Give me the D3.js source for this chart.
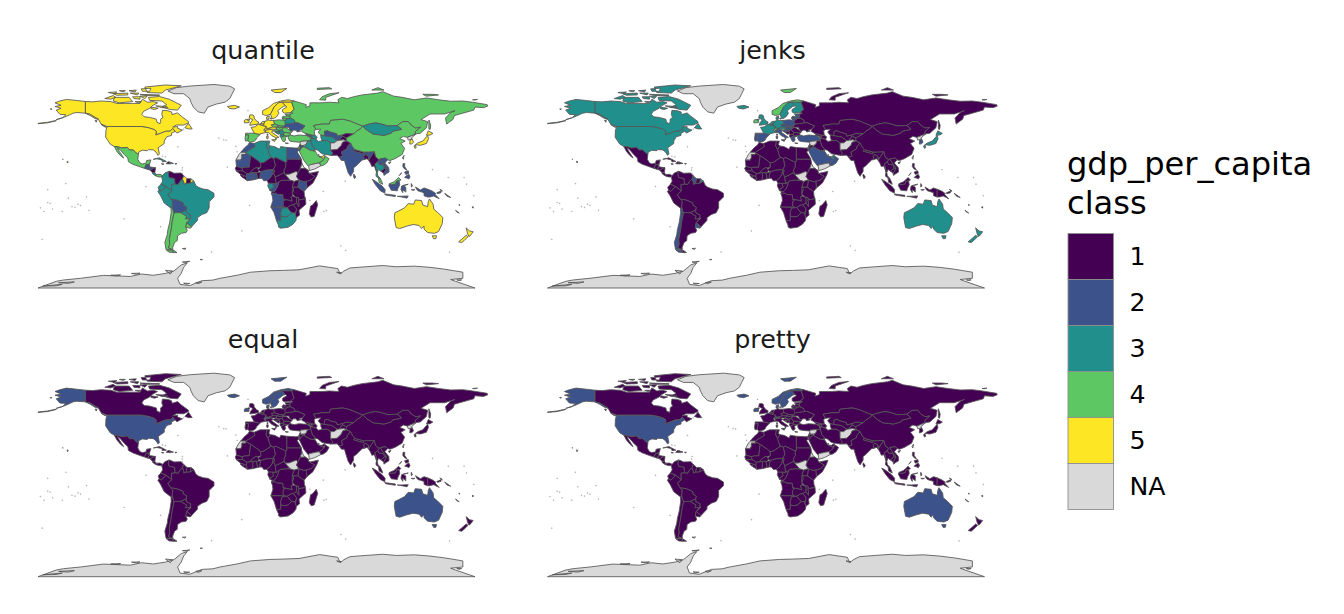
<!DOCTYPE html>
<html><head><meta charset="utf-8">
<script src="https://cdn.jsdelivr.net/npm/d3@7"></script>
<style>html,body{margin:0;padding:0;background:#fff}svg{display:block}text{font-family:"DejaVu Sans",sans-serif}</style>
</head><body><svg id="chart" width="1344" height="614"></svg>
<script>
const methods = ["quantile", "jenks", "equal", "pretty"];
const legendLabels = ["1", "2", "3", "4", "5", "NA"];
const classColors = ["#440154", "#3B528B", "#21908C", "#5DC863", "#FDE725", "#D9D9D9"];
const legendTitle = ["gdp_per_capita", "class"];

const naCountries = ["Greenland","Antarctica","W Sahara","S Sudan","Eritrea","Afghanistan","Yemen","Syria","N Korea","Taiwan","Falklands","New Caledonia"];

// class -> countries; anything not listed falls in class 1
const quantile2 = ["Morocco","Mauritania","Egypt","Nigeria","Ghana","Congo","Angola","Namibia","Kenya","Cote dIvoire","India","Laos","Vietnam","Indonesia","Philippines","PNG","Bolivia","Ukraine","Uzbekistan","Moldova","Georgia","Armenia","Jordan","Honduras","Guatemala","El Salvador","Sri Lanka","Solomon"];
const quantile3 = ["Algeria","Libya","Tunisia","Gabon","South Africa","Botswana","Brazil","Colombia","Peru","Ecuador","Paraguay","Belarus","Thailand","Iran","Iraq","Turkmenistan","Azerbaijan","Mongolia","Serbia","Bosnia","Albania","Cuba","Dominican Rep","Costa Rica","Lebanon","Belize"];
const quantile4 = ["Russia","China","Kazakhstan","Mexico","Argentina","Chile","Uruguay","Spain","Portugal","Poland","Lithuania","Latvia","Estonia","Hungary","Slovakia","Czechia","Croatia","Greece","Turkey","Saudi Arabia","Oman","Malaysia","Romania","Bulgaria","Panama"];
const quantile5 = ["USA","Canada","Australia","New Zealand","Japan","S Korea","UK","Ireland","Iceland","Norway","Sweden","Finland","Denmark","Germany","France","Belgium","Netherlands","Switzerland","Austria","Italy","Israel","UAE","Kuwait","Qatar","Guyana"];

const jenks2 = ["Spain","Portugal","Italy","Turkey","Greece","Poland","Czechia","Slovakia","Hungary","Croatia","Lithuania","Latvia","Estonia","Saudi Arabia","Oman","S Korea","Chile","Uruguay","Guyana"];
const jenks3 = ["USA","Canada","Australia","New Zealand","Japan","UK","Germany","France","Belgium","Netherlands","Sweden","Finland","Denmark","Austria","Israel","UAE","Iceland"];
const jenks4 = ["Norway","Ireland","Switzerland","Kuwait"];
const jenks5 = ["Qatar"];

const equal2 = ["USA","Australia","Norway","Sweden","Ireland","Iceland","Switzerland","Denmark","Qatar","Kuwait"];
const pretty2 = ["USA","Australia","Norway","Sweden","Ireland","Iceland","Switzerland","Denmark","Qatar","Kuwait"];

// Outlines, [longitude, latitude]
const outlines = {
"Antarctica":[[[-180,-84],[-165,-78.5],[-159,-77.4],[-145,-76],[-126,-73.6],[-104,-74.5],[-94.6,-72.5],[-85,-73.5],[-75,-72],[-68,-70],[-62,-65],[-57,-63.3],[-60,-67],[-62,-72],[-65,-76],[-63,-81],[-55,-82],[-45,-78],[-36,-77.5],[-30,-76],[-16,-73.5],[-5,-71],[11,-69.8],[22,-69.5],[35,-69],[52,-65.8],[60,-67],[67,-68],[69,-72.5],[72,-70],[77,-67.5],[90,-66.5],[104,-65.5],[115,-66.5],[130,-66],[143,-67],[155,-68.5],[170,-71],[170,-76],[160,-77],[164,-78.5],[180,-84]],
[[-103,-72],[-96,-71.8],[-99,-72.7]],[[-75,-69.5],[-69,-70],[-71,-72.5]],[[-61,-62.6],[-55,-62],[-58,-62.9]],[[-46.5,-60.5],[-44.5,-60.5],[-45.5,-60.8]],[[-50,-79.5],[-45,-79],[-48,-80.5]],[[-60,-80],[-55,-80.3],[-58,-80.8]],[[-163,-79.6],[-150,-79],[-155,-80.2]],[[-176,-82.4],[-160,-81],[-165,-82.2]],[[-120,-73.5],[-112,-73.2],[-115,-74]],[[165,-77.3],[169,-77.3],[167,-77.9]],[[66,-71],[70,-71.5],[68,-72]]],
"Greenland":[[[-73,78.2],[-66,81],[-55,82.3],[-35,83.6],[-22,82.2],[-18,80],[-20,76],[-22,72],[-26,69],[-33,67.5],[-40,65],[-43,60],[-48,61],[-52,65],[-54,69],[-55,72],[-60,76],[-68,76]]],
"Canada":[[[-141,69.6],[-135,69.3],[-128,70],[-120,69.5],[-115,68],[-108,68],[-102,68],[-96,68],[-94,71.5],[-90,69],[-85,69.5],[-81.5,68.5],[-86,66],[-88,64],[-93,61.5],[-94.5,59],[-92.5,57],[-88,56.5],[-82.5,55],[-82,52.5],[-79.5,51.3],[-79,53],[-79,55],[-77,56.5],[-78,59],[-77.5,62.3],[-73,62],[-70,61],[-69.5,58.8],[-65,60.2],[-62,57.5],[-56,53],[-56,52],[-60,50.2],[-66,50.2],[-69,48.5],[-65,49],[-65,47.5],[-61,46],[-65.5,43.6],[-67,45],[-69,47.3],[-71,45.2],[-75,45],[-79,43.4],[-83,42],[-82.5,45],[-84.5,46.5],[-89,48],[-95,49],[-123,49],[-128,51],[-130,54.5],[-133,56.5],[-137,59],[-141,60]],
[[-80,73.7],[-72,71.5],[-67,69],[-62,66.5],[-65,62.5],[-71,63],[-78,65],[-74,67],[-78,70],[-88,70.5],[-89,73]],[[-117,73],[-105,73],[-102,69.5],[-113,68.5],[-118,70]],[[-125,72],[-118,74.5],[-116,73],[-120,71.5]],[[-90,77],[-78,76.5],[-75,79],[-62,82.5],[-75,83.2],[-92,81.5]],[[-96,75.5],[-80,75],[-80,74.5],[-92,74.5]],[[-95,80],[-87,80.5],[-88,78],[-94,78]],[[-118,76],[-106,76.5],[-106,75],[-115,74.7]],[[-87,65],[-81,64],[-84,63],[-87,63.7]],[[-59,48],[-56,51.5],[-53,47],[-56,47]],[[-128,50.7],[-123.5,48.4],[-125,48.7]],[[-102,73.5],[-96,73.5],[-96,71.5],[-101,72]],[[-105,78.5],[-99,79],[-100,77.5]],[[-133,54],[-131.5,54],[-132,52.5]],[[-104,76.5],[-97,76.5],[-98,75]],[[-96,74],[-90,74],[-92,72]],[[-100,69.5],[-95,69.5],[-97,68.5]],[[-122,77],[-115,77.5],[-117,76]],[[-113,78.5],[-108,78.5],[-110,77.7]],[[-83,66],[-74,65.5],[-73,64.5],[-78,64.5]]],
"USA":[[[-123,49],[-95,49],[-89,48],[-84.5,46.5],[-82.5,45],[-83,42],[-79,43.4],[-75,45],[-71,45.2],[-69,47.3],[-67,45],[-70,43.5],[-70,41.7],[-74,40.5],[-76,37],[-76,35],[-81,31.5],[-80,26.5],[-81,25.2],[-82.8,28],[-85,29.7],[-89,30],[-90,29],[-94,29.5],[-97,28],[-97.3,26],[-99.5,27.5],[-101.5,29.7],[-104.5,29.6],[-106.5,31.8],[-111,31.3],[-114.8,32.5],[-117.1,32.5],[-120.5,34.5],[-122.5,37.5],[-124.3,40.3],[-124,46]],
[[-141,69.6],[-148,70.4],[-156.5,71.3],[-162,70],[-166,68.5],[-161,66.5],[-166,65.5],[-161,64],[-165,62.5],[-162,59],[-157,58.7],[-160,56],[-165,54.6],[-158,56.8],[-153,59],[-151,60],[-148,60.5],[-141,60]],[[-141,60],[-137,59],[-133,56.5],[-130,55],[-133,55.5],[-137,58]],[[-180,51.6],[-172,52.5],[-165,54],[-165,53.7],[-172,52],[-180,51.3]],[[-156,20.5],[-155,19.8],[-155.8,19]],[[-159.8,22.2],[-159.3,22.2],[-159.5,21.8]],[[-170,63.5],[-168.5,63.5],[-169.5,63]]],
"Mexico":[[[-117.1,32.5],[-114.8,32.5],[-111,31.3],[-106.5,31.8],[-104.5,29.6],[-101.5,29.7],[-99.5,27.5],[-97.3,26],[-97.8,22],[-96,19],[-94,18.2],[-91,18.8],[-90.5,21],[-87,21.5],[-88,18.3],[-89,17.8],[-91,17.5],[-92.2,14.5],[-96,15.8],[-102,18],[-105.5,20],[-106,23],[-109,26],[-112.5,30],[-114.7,31.5],[-113,28.5],[-110,24],[-109.5,23],[-112,25],[-115,28.5]]],
"Guatemala":[[[-92.2,14.5],[-91,17.5],[-89,17.8],[-88.3,15.8],[-89.3,14.4],[-90,13.8]]],
"Belize":[[[-89,17.8],[-88,18.3],[-88.3,15.9]]],
"Honduras":[[[-89.3,14.4],[-88.3,15.8],[-83.2,15],[-84.7,14.7],[-87.5,13]]],
"El Salvador":[[[-90,13.8],[-89.3,14.4],[-87.7,13.2]]],
"Nicaragua":[[[-87.5,13],[-84.7,14.7],[-83.2,15],[-83.7,11],[-85.7,11]]],
"Costa Rica":[[[-85.7,11],[-83.7,11],[-82.6,9.5],[-83,8.3],[-85.5,10]]],
"Panama":[[[-83,8.3],[-82.6,9.5],[-79.5,9.6],[-77.3,8.6],[-78,7.4],[-80.5,7.5]]],
"Cuba":[[[-85,22],[-80,23.2],[-74.2,20.2],[-77.5,19.9],[-78,21.5],[-82,22.4]]],
"Haiti":[[[-74.4,18.4],[-73,19.9],[-71.7,19.8],[-71.7,18.2]]],
"Dominican Rep":[[[-71.7,19.8],[-68.4,18.6],[-71.7,18.2]]],
"Jamaica":[[[-78.3,18.4],[-76.3,18.1],[-77.5,17.8]]],
"Puerto Rico":[[[-67.2,18.5],[-65.6,18.4],[-66.5,17.9]]],
"Colombia":[[[-77.3,8.6],[-75.5,10.7],[-72,12.2],[-72.5,9.5],[-72,7],[-67.5,6.2],[-67,1.5],[-70,1.2],[-69.8,-4.2],[-72,-2.3],[-75,-0.2],[-78.8,1.4],[-77.3,4],[-78,7.4]]],
"Venezuela":[[[-72,12.2],[-70,11.5],[-68,10.5],[-62,10.7],[-60,8.5],[-61,5.5],[-63,3.8],[-64.5,1.2],[-67,1.5],[-67.5,6.2],[-72,7],[-72.5,9.5]]],
"Guyana":[[[-60,8.5],[-57.2,6],[-58,2],[-59.9,1.3],[-59.9,3],[-61,5.5]]],
"Suriname":[[[-57.2,6],[-54,5.9],[-54.5,2.3],[-58,2]]],
"Ecuador":[[[-78.8,1.4],[-75,-0.2],[-75.5,-1.5],[-78.5,-4.5],[-80.3,-3.4],[-81,-1]]],
"Peru":[[[-81.3,-4.5],[-80.3,-3.4],[-78.5,-4.5],[-75.5,-1.5],[-75,-0.2],[-72,-2.3],[-69.8,-4.2],[-73,-7],[-70.5,-11],[-69,-12.5],[-69.5,-17.5],[-70.4,-18.3],[-76,-14],[-79,-8]]],
"Brazil":[[[-69.8,-4.2],[-70,1.2],[-67,1.5],[-64.5,1.2],[-63,3.8],[-61,5.5],[-59.9,3],[-59.9,1.3],[-58,2],[-54.5,2.3],[-51.7,4.2],[-50,0.5],[-48,-1],[-44,-2.5],[-40,-3],[-37,-4.8],[-35,-6],[-35,-9],[-39,-13],[-39,-18],[-41,-22],[-45,-23.5],[-48.5,-26],[-48.7,-28.5],[-52,-32],[-53.5,-33.7],[-57.5,-30.2],[-54,-27],[-54.5,-25.5],[-54.3,-24],[-57.8,-22.2],[-58,-20],[-57.5,-17.5],[-60,-16],[-60.5,-13.8],[-65.3,-11.7],[-69,-11],[-70.5,-11],[-73,-7]]],
"Bolivia":[[[-70.5,-11],[-69,-11],[-65.3,-11.7],[-60.5,-13.8],[-60,-16],[-57.5,-17.5],[-58,-20],[-62.5,-22],[-66.5,-22],[-68,-22.5],[-69.5,-17.5],[-69,-12.5]]],
"Paraguay":[[[-58,-20],[-57.8,-22.2],[-54.3,-24],[-54.5,-25.5],[-54.7,-27],[-58.5,-27.2],[-57.7,-25],[-62.5,-22]]],
"Chile":[[[-70.4,-18.3],[-69.5,-17.5],[-68,-22.5],[-69.5,-30],[-70.3,-36],[-71.8,-44],[-71.5,-48],[-72.5,-51],[-69,-52.3],[-74.5,-52.5],[-75.5,-46.5],[-73.5,-40],[-73,-36],[-71.5,-30],[-70.3,-22]],[[-74,-53],[-69,-52.7],[-68.6,-54.8],[-72,-54.5]]],
"Argentina":[[[-68,-22.5],[-66.5,-22],[-62.5,-22],[-57.7,-25],[-58.5,-27.2],[-54.7,-27],[-57.5,-30.2],[-58.3,-34],[-57,-36.5],[-58,-38.3],[-62,-39],[-65,-41],[-65.3,-45],[-67.5,-46.5],[-69,-50.5],[-69,-52.3],[-72.5,-51],[-71.5,-48],[-71.8,-44],[-70.3,-36],[-69.5,-30]],[[-68.6,-52.7],[-65.5,-54.8],[-68.6,-54.9]]],
"Uruguay":[[[-57.5,-30.2],[-53.5,-33.7],[-54.5,-34.8],[-58.3,-34]]],
"Falklands":[[[-61,-51.5],[-58,-51.3],[-59,-52.2]]],
"Morocco":[[[-5.9,35.8],[-2,35],[-1.2,32.5],[-3.5,31],[-8.7,27.7],[-13,27.7],[-9.8,31.5],[-6.8,34]]],
"W Sahara":[[[-13,27.7],[-8.7,27.7],[-8.7,26],[-12,26],[-12,23.4],[-13,21.3],[-17,21.3],[-14.5,26]]],
"Mauritania":[[[-17,21.3],[-13,21.3],[-12,23.4],[-12,26],[-8.7,26],[-8.7,27.3],[-4.8,25],[-6,15.5],[-9.5,15.5],[-12.2,14.8],[-16.5,16.2]]],
"Algeria":[[[-2,35],[3,37],[8.6,37],[8,33],[9.5,30],[11.5,24],[12,23.5],[6,19.4],[3.3,19],[1,21],[-4.8,25],[-8.7,27.3],[-8.7,27.7],[-3.5,31],[-1.2,32.5]]],
"Tunisia":[[[8.6,37],[11,37],[10.2,34],[11.5,33],[9.5,30],[8,33]]],
"Libya":[[[11.5,33],[15,32.4],[19,30.3],[20,32.5],[25,31.7],[25,20],[24,19.5],[16,23.4],[14.2,22.6],[11.5,24],[9.5,30]]],
"Egypt":[[[25,31.7],[32,31.3],[34.3,31.3],[34.9,29.5],[33.5,28],[36,24],[37,22],[25,22]]],
"Sudan":[[[25,22],[37,22],[37.5,18.5],[36,14.3],[34,10.5],[32.8,12],[27,9.7],[23.5,9.5],[22.5,13],[24,15.7],[24,19.5],[25,20]]],
"S Sudan":[[[23.5,9.5],[27,9.7],[32.8,12],[34,10.5],[33,7.8],[35,5],[31,3.7],[28.5,4.5],[27.5,5]]],
"Eritrea":[[[36,14.3],[37.5,18.5],[39,15.5],[43,12.5],[40,14.5]]],
"Ethiopia":[[[36,14.3],[40,14.5],[43,12.5],[42.8,11],[48,8],[45,5],[42,4],[39,3.5],[36,4.5],[35,5],[33,7.8],[34,10.5]]],
"Somalia":[[[42.8,11],[44,10.5],[51,12],[50,9],[46.5,2.5],[41.5,-1.7],[41,3.9],[42,4],[45,5],[48,8]]],
"Kenya":[[[41,3.9],[41.5,-1.7],[39.2,-4.6],[34,-1],[35,5],[36,4.5],[39,3.5]]],
"Uganda":[[[31,3.7],[35,5],[34,-1],[30,-1],[29.7,0.5]]],
"Tanzania":[[[34,-1],[39.2,-4.6],[39.5,-8],[40.4,-10.5],[35,-11.5],[34.5,-9.5],[32,-9],[29.5,-6.5],[30.5,-3],[30,-1]]],
"Rwanda":[[[29,-1.3],[30.5,-1.3],[30.5,-4.3],[29.2,-4.3]]],
"DRC":[[[12.2,-6],[13,-4.5],[14.5,-4.5],[16,-3],[17.5,0],[18.5,3.5],[20,4.5],[25,5],[28.5,4.5],[31,3.7],[29.7,0.5],[29.5,-3],[29.5,-6.5],[30,-8.5],[28.5,-9],[29.5,-12.5],[27,-11.8],[22,-11],[21.5,-7],[17,-7],[16,-6]]],
"Congo":[[[11.2,-4],[13,-4.5],[14.5,-4.5],[16,-3],[17.5,0],[18.5,3.5],[16.2,2],[13.2,2.2],[14,-1],[11.5,-2.5]]],
"Gabon":[[[9.3,0],[9.8,2.3],[13.2,2.2],[14,-1],[11.5,-2.5],[11.2,-4]]],
"Cameroon":[[[8.6,4.5],[9.8,2.3],[13.2,2.2],[16.2,2],[15.5,7.5],[14.3,10],[15,13],[13.7,13.5],[13,9.5],[11,6.5]]],
"CAR":[[[15.5,7.5],[16.2,2],[18.5,3.5],[20,4.5],[25,5],[27.5,5],[23.5,9.5],[22.5,11],[18.8,9]]],
"Chad":[[[16,23.4],[24,19.5],[24,15.7],[22.5,13],[23.5,9.5],[22.5,11],[18.8,9],[15.5,7.5],[14.3,10],[15,13],[13.7,13.5],[15.5,16.8],[14.2,22.6]]],
"Niger":[[[12,23.5],[14.2,22.6],[15.5,16.8],[13.7,13.5],[8,13],[3.6,11.7],[1,13.3],[3.5,15.5],[3.3,19],[6,19.4]]],
"Nigeria":[[[2.7,6.3],[2.8,9],[3.6,11.7],[8,13],[13.7,13.5],[13,9.5],[11,6.5],[8.6,4.5],[6,4.3],[4.5,6.3]]],
"Mali":[[[-12.2,14.8],[-9.5,15.5],[-6,15.5],[-4.8,25],[1,21],[3.3,19],[3.5,15.5],[1,14.9],[-0.5,15],[-3,13.5],[-5.5,10.5],[-8,10.2],[-11.4,12.4]]],
"Burkina Faso":[[[-5.5,10.5],[-3,13.5],[-0.5,15],[1,14.9],[2,12.5],[1,11],[-2.8,11]]],
"Senegal":[[[-17.5,14.7],[-16.5,16.2],[-12.2,14.8],[-11.4,12.4],[-16.7,12.4]]],
"Guinea":[[[-16.7,12.4],[-11.4,12.4],[-8,10.2],[-8.3,7.6],[-10.2,8.5],[-13,9.5]]],
"Sierra Leone":[[[-13.2,8.5],[-13,9.5],[-10.2,8.5],[-11.4,7]]],
"Liberia":[[[-11.4,7],[-10.2,8.5],[-8.3,7.6],[-7.5,4.4]]],
"Cote dIvoire":[[[-7.5,4.4],[-8.3,7.6],[-8,10.2],[-5.5,10.5],[-2.8,11],[-3,5]]],
"Ghana":[[[-3,5],[-2.8,11],[0,11],[1,6]]],
"Benin":[[[1,6],[0,11],[1,11],[3.6,11.7],[2.8,9],[2.7,6.3]]],
"Angola":[[[12.2,-6],[16,-6],[17,-7],[21.5,-7],[22,-11],[24,-11],[22,-13],[22,-16.5],[23.4,-17.5],[18.5,-17.4],[11.8,-17.3],[13.5,-12],[13.2,-9]]],
"Zambia":[[[22,-11],[27,-11.8],[29.5,-12.5],[28.5,-9],[30,-8.5],[33,-9.5],[33,-14],[30.3,-15.5],[28,-16],[25.3,-17.8],[23.4,-17.5],[22,-16.5],[22,-13],[24,-11]]],
"Malawi":[[[33,-9.5],[34.5,-9.5],[35,-14],[35,-17],[33,-14]]],
"Mozambique":[[[35,-11.5],[40.4,-10.5],[40.7,-15],[35,-20],[35.5,-24],[32.8,-26],[32,-24],[33,-19],[30.3,-15.5],[33,-14],[35,-17],[35,-14],[34.5,-11.5]]],
"Zimbabwe":[[[25.3,-17.8],[28,-16],[30.3,-15.5],[33,-19],[32,-22.4],[29,-22],[27,-20]]],
"Namibia":[[[11.8,-17.3],[18.5,-17.4],[23.4,-17.5],[25.3,-17.8],[21,-18.3],[20,-22],[20,-28.5],[16.5,-28.6],[14.5,-22]]],
"Botswana":[[[21,-18.3],[25.3,-17.8],[27,-20],[29,-22],[26,-25],[23,-25.5],[20,-25],[20,-22]]],
"South Africa":[[[16.5,-28.6],[20,-28.5],[20,-25],[23,-25.5],[26,-25],[29,-22],[32,-22.4],[32,-24],[32.8,-26],[32.5,-28.5],[30,-31.5],[26,-34],[20,-34.8],[18.3,-34],[18,-32]]],
"Madagascar":[[[49.3,-12],[50.4,-15.5],[47.5,-25],[45,-25.5],[43.5,-23],[44.5,-16.5],[46,-15.8]]],
"Spain":[[[-9,43.5],[-2,43.5],[3,42.4],[0,39.5],[-0.5,38],[-2,36.8],[-5.5,36],[-7.3,37.2],[-7,39],[-6.5,42],[-9,42]]],
"Portugal":[[[-9,42],[-6.5,42],[-7,39],[-7.3,37.2],[-9,37],[-9.5,38.8]]],
"France":[[[-1.8,43.4],[-4.5,48.3],[-1.5,48.7],[1.5,50.8],[4.5,50],[8.2,49],[7.5,47.5],[6,46.3],[7.5,44],[3,43],[3,42.4],[-2,43.5]],[[-54,5.9],[-51.7,4.2],[-54.5,2.3]],[[8.6,42.8],[9.5,42.8],[9.2,41.4]]],
"Belgium":[[[2.5,51],[4.5,51.4],[6,51],[6,49.6],[4.5,50]]],
"Netherlands":[[[3.5,51.4],[4.7,53],[7,53.3],[6,51],[4.5,51.4]]],
"Germany":[[[6,51],[7,53.3],[9,54],[9,54.8],[11,54],[14,54],[15,51],[12.2,50.3],[13.8,48.7],[10,47.4],[7.5,47.6],[8.2,49],[6,49.6]]],
"Switzerland":[[[6,46.3],[7.5,47.6],[10,47.4],[10,46.3],[7.5,45.9]]],
"Austria":[[[10,47.4],[13.8,48.7],[17,48.5],[16,46.7],[12,46.7],[10,46.8]]],
"Italy":[[[7.5,44],[7.5,45.9],[10,46.3],[12,46.7],[13.7,45.6],[12.3,44.5],[16,41.8],[18.5,40],[16.5,39.7],[16,38],[15.6,40],[12.5,41.5],[10,44]],[[12.5,38],[15.6,38.2],[15,36.7]],[[8.3,41],[9.7,41],[9.5,39],[8.5,39]]],
"UK":[[[-5.5,50],[1.4,51],[1.7,52.7],[0,53.5],[-2,56],[-2,57.7],[-3.3,58.6],[-5.5,58.5],[-6,56],[-3,54.5],[-5,52]],[[-8,54.5],[-6,55.2],[-5.6,54.4],[-6.5,54]]],
"Ireland":[[[-10,52],[-6.2,52.2],[-6,53.5],[-6.5,54],[-8,54.5],[-8.5,55],[-10,54]]],
"Iceland":[[[-24,65.5],[-18,66.4],[-14,65],[-18.5,63.4],[-22.5,64]]],
"Norway":[[[5,59],[5,62],[10,64.5],[14,68],[20,70],[26,71],[31,70],[29,69],[25,69],[21,69],[18,68.5],[14.5,65],[12.5,61],[11.5,59],[8,58]],[[12,79],[25,80.3],[20,77],[15,77]]],
"Sweden":[[[11.5,59],[12.5,61],[14.5,65],[18,68.5],[21,69],[24,66],[22,65.5],[17.5,62],[18.5,60],[16.5,57],[14,55.5],[13,55.5]]],
"Finland":[[[21,69],[25,69],[29,69],[31,63],[28,60.5],[23,60],[21.5,61],[21.5,63],[25,65],[24,66]]],
"Denmark":[[[8.2,55],[8.5,57],[10.6,57.7],[10,55]],[[11,55.7],[12.5,56],[12.2,55]]],
"Poland":[[[14,54],[19,54.5],[23.5,54],[24,51],[22.5,49.2],[18.8,49.5],[15,51]]],
"Czechia":[[[12.2,50.3],[15,51],[18.8,49.5],[17,48.5],[13.8,48.7]]],
"Slovakia":[[[17,48.5],[18.8,49.5],[22.5,49.2],[22,48.4],[18.8,47.8]]],
"Hungary":[[[16,46.7],[17,48.5],[18.8,47.8],[22,48.4],[21,46.2],[18.5,45.8]]],
"Croatia":[[[13.7,45.4],[16,46.5],[18.5,45.8],[19,45],[15.7,44.8],[18,42.7],[15,44.5]]],
"Bosnia":[[[15.7,44.8],[19,45],[19.2,43],[18,42.7]]],
"Serbia":[[[19,45],[18.5,45.8],[21,46.2],[22.7,44.2],[22.5,42.3],[20,42.3],[19.2,43]]],
"Albania":[[[19.4,42.2],[20,42.3],[22.5,42.3],[23,41.3],[20.5,40],[19.4,40.5]]],
"Greece":[[[20.3,39.5],[20.5,40],[23,41.3],[26,41.3],[23.5,40],[24,38],[23,36.5],[21.7,36.8]],[[23.6,35.5],[26.3,35.2],[24.5,35]]],
"Bulgaria":[[[22.5,42.3],[22.7,44.2],[27.7,43.7],[28,42],[26,41.3],[23,41.3]]],
"Romania":[[[21,46.2],[22,48],[24.5,47.9],[28,45.5],[29.5,45],[28.5,43.7],[22.7,44.2]]],
"Moldova":[[[26.7,48.3],[29.5,46],[28,45.5]]],
"Ukraine":[[[22,48.4],[24,51],[28,51.5],[32,52.2],[34,52.2],[40,49.5],[38,47],[35,46],[36.5,45.2],[33.5,44.5],[32.5,46],[30.5,46],[29.5,45.3],[28,45.5],[26.7,48.3]]],
"Belarus":[[[23.5,52],[23.5,54],[26,55.7],[28,56],[31,54.5],[32,52.2],[28,51.5],[24,51]]],
"Lithuania":[[[21,56],[26,56],[26,55.7],[23.5,54],[22,54.4]]],
"Latvia":[[[21,56],[22,57.6],[24,57.1],[24.4,58],[27.5,57.5],[28,56],[26,55.7]]],
"Estonia":[[[23.5,59.2],[28,59.4],[27.5,57.5],[24.4,58]]],
"Turkey":[[[26,39.5],[26.5,41.7],[28,42],[31,41.2],[35,42],[41.5,41.5],[44,40],[44.7,37.2],[42,37.2],[36.5,36.7],[36,36],[30.5,36.5],[27.5,37]]],
"Georgia":[[[40,43.4],[46.5,41.8],[44,41],[41.5,41.5]]],
"Armenia":[[[43.5,41],[45.5,41],[46.5,39],[44.8,39.7]]],
"Azerbaijan":[[[45.5,41],[46.5,41.8],[48.5,41.8],[50,40.3],[49,38.4],[46.5,39]]],
"Russia":[[[28,59.4],[30,60],[28,60.5],[31,63],[29,69],[31,70],[33,69.4],[41,67],[40.5,64.7],[44,66],[44,68.5],[54,68.5],[60,69],[68,68.5],[67,71],[70,73],[75,72],[80,73.5],[87,75],[100,76.5],[104,77.7],[113,74],[120,73],[130,71],[140,72.5],[150,71],[160,69.8],[170,70],[178,69],[190,67],[190.5,65.8],[187,64.5],[180,65],[179,62.5],[170,60],[163,58],[162,55],[158,52],[156.7,51],[155.7,56],[160,60.5],[163.5,62],[155,59.3],[143,59.3],[135.5,54.7],[141,53],[140,48],[135,43.5],[132,43],[130.7,42.3],[130.7,42.9],[131,45],[135,48.4],[131,47.7],[127.5,50],[125,53],[120.5,53],[116,49.8],[113,49.6],[108,49.5],[102,51.3],[98,52],[92,50.8],[87.5,49.2],[83,51],[77,53.5],[71,55],[61,54],[60,51],[54,51],[47,49.8],[49,46.5],[47.5,45.5],[48,42],[46.5,41.8],[40,43.4],[37,45],[38,47],[40,49.5],[34,52.2],[32,52.2],[31,54.5],[28,56],[27.5,57.5]],
[[142,54.3],[143.5,50],[143,46.5],[142,47],[142,50.5]],[[52,71],[57,70.7],[57,73],[68,76.8],[60,76],[54,73.5]],[[50,80.5],[60,81],[62,80],[50,79.5]],[[95,79],[105,79],[100,81]],[[137,75.5],[145,75.5],[150,75],[140,74]],[[178,71],[182,71.3],[180,70.8]]],
"Kazakhstan":[[[47,49.8],[54,51],[60,51],[61,54],[71,55],[77,53.5],[83,51],[87.5,49.2],[85.5,47],[82.5,45.3],[80,42.8],[74,43.2],[70.5,42],[66.5,41],[66,43],[61,44.3],[58.5,45.5],[56,45],[56,41.3],[53,42],[52,42.8],[50.8,44.5],[53,46.8],[49,46.5]]],
"Uzbekistan":[[[56,41.3],[56,45],[58.5,45.5],[61,44.3],[66,43],[66.5,41],[70.5,42],[71,41],[67.8,37.3],[66.5,37.4],[62,40.5]]],
"Turkmenistan":[[[53,42],[56,41.3],[62,40.5],[66.5,37.4],[64,35.5],[61,35.5],[58,37.5],[54,37.3],[53,40]]],
"Kyrgyzstan":[[[70.5,42],[74,43.2],[80,42.8],[74,39.5],[71,41]]],
"Tajikistan":[[[67.8,37.3],[71,41],[74,39.5],[74.5,37],[71.5,38]]],
"Iran":[[[44.7,37.2],[44.8,39.7],[46.5,39],[49,38.4],[51,36.7],[54,37.3],[58,37.5],[61,35.5],[61,31.5],[63,27],[61.5,25.2],[57,26],[54,26.5],[50.5,29.5],[48.5,30],[46,33]]],
"Iraq":[[[42,37.2],[44.7,37.2],[46,33],[48.5,30],[47,29],[44.5,29.2],[39,32.3],[41,34.5]]],
"Syria":[[[36,36],[36.5,36.7],[42,37.2],[41,34.5],[38.8,33.4],[36,33.2]]],
"Jordan":[[[35.6,33],[38.8,33.4],[39,32.3],[37,31.5],[36,29.3],[35,29.4]]],
"Israel":[[[34.3,31.3],[35.2,33],[35.6,33],[35,29.4]]],
"Lebanon":[[[35.2,33],[36,34.5],[36.5,34.2],[36,33.2]]],
"Saudi Arabia":[[[34.9,29.5],[36,29.3],[37,31.5],[39,32.3],[44.5,29.2],[47,29],[48.5,28.5],[50,26],[51,24.5],[55,22.7],[55.7,22],[52,19],[49,18.5],[44,17.4],[43,16.6],[42.5,16.5],[39,21],[37,25]]],
"Yemen":[[[43,16.6],[44,17.4],[49,18.5],[52,19],[53,16.6],[48,14],[43.5,12.7]]],
"Oman":[[[52,19],[55.7,22],[56.3,24.8],[59.8,22.5],[57.8,19],[55,17],[53,16.6]]],
"UAE":[[[51.5,24.3],[54,24.2],[56.3,25.8],[56,24],[55,22.7]]],
"Kuwait":[[[46.6,29.1],[48,29.9],[48.3,28.6]]],
"Qatar":[[[50.8,25],[51.2,26.1],[51.6,25]]],
"Afghanistan":[[[61,35.5],[64,35.5],[66.5,37.4],[71.5,38],[74.5,37],[71,36],[70,33.5],[66.5,30],[61,29.5],[61,31.5]]],
"Pakistan":[[[61,29.5],[66.5,30],[70,33.5],[71,36],[74.5,37],[77.5,35.5],[75,32.5],[74.5,30.5],[70,28],[71,24.5],[68,23.7],[66.5,25.4],[61.5,25.2],[63,27]]],
"India":[[[68,23.7],[71,24.5],[70,28],[74.5,30.5],[75,32.5],[77.5,35.5],[79,32.5],[81,30],[80,28.8],[88,26.5],[88,28],[92,28],[97,28.3],[94.5,24.5],[93,22],[92,24.5],[89.5,26],[88.3,24.5],[89,21.8],[87,21.4],[82,16.5],[80,15],[80,12],[77.5,8],[75.5,11],[73,19],[72.5,21],[70,21]]],
"Nepal":[[[80,28.8],[81,30],[88,28],[88,26.5]]],
"Bangladesh":[[[88.3,24.5],[89.5,26],[92,24.5],[92.5,21],[91,22.5],[89,21.8]]],
"China":[[[73.7,39.5],[74,39.5],[80,42.8],[82.5,45.3],[85.5,47],[87.5,49.2],[91,46],[96,42.8],[105,41.7],[111,43.5],[112,45],[119.5,46.7],[116,49.8],[120.5,53],[125,53],[127.5,50],[131,47.7],[135,48.4],[131,45],[130.7,42.9],[128,41.5],[124.3,40],[121,40.9],[118,39],[122.5,37],[119,35],[122,31],[120,26],[114,22.5],[110,21],[108,21.5],[106.5,23],[102,22.4],[101,21.5],[98,24],[97,28.3],[92,28],[88,28],[81,30],[79,32.5],[77.5,35.5],[74.5,37]],[[108.7,19.3],[110.8,20],[109.5,18.2]]],
"Mongolia":[[[87.5,49.2],[92,50.8],[98,52],[102,51.3],[108,49.5],[113,49.6],[116,49.8],[119.5,46.7],[112,45],[111,43.5],[105,41.7],[96,42.8],[91,46]]],
"N Korea":[[[124.3,40],[128,41.5],[130.7,42.3],[129.5,41],[127.5,39.5],[128.3,38.6],[125,37.8]]],
"S Korea":[[[126.5,37.7],[128.3,38.6],[129.4,36],[128,34.7],[126.3,34.5]]],
"Japan":[[[130.9,34],[135,33.5],[140,35],[141.7,39],[141,41.5],[140,40.5],[137,37],[133,35.5]],[[140,41.7],[141.5,45.4],[145.3,43.3],[143,42]],[[129.8,33],[131,33.8],[131.5,31.5],[130.5,31]]],
"Taiwan":[[[120.2,23],[121.5,25.2],[121,22]]],
"Myanmar":[[[92.5,21],[93,22],[94.5,24.5],[97,28.3],[98,24],[101,21.5],[100,20],[97.5,18],[98.5,15],[99,11],[98,14],[97,16.5],[95,16],[94,18.5]]],
"Thailand":[[[97.5,18],[100,20],[101,17.8],[104.8,17.5],[105.5,14.5],[102.5,12.2],[100.5,13.5],[99.5,11],[100,8.5],[102,6.2],[100.5,6.5],[98.5,8],[98.5,10.5],[99,11],[98.5,15]]],
"Laos":[[[101,21.5],[102,22.4],[104,19],[107,15],[105.5,14.5],[104.8,17.5],[101,17.8],[100,20]]],
"Vietnam":[[[102,22.4],[106.5,23],[108,21.5],[105.7,19],[109,15],[109.2,11.5],[106.8,10],[105,8.7],[104.8,10.5],[107,14.5],[107,15],[104,19]]],
"Cambodia":[[[102.5,12.2],[105.5,14.5],[107,14.5],[104.8,10.5]]],
"Malaysia":[[[100.5,6.5],[102,6.2],[103.5,3],[104,1.4],[101,3]],[[109.5,1.8],[111.5,2.8],[113,3.3],[115,5],[117,7],[119,5],[117.5,4.2],[115.5,4],[114.5,1.5],[111,1]]],
"Indonesia":[[[95.3,5.5],[98,4],[103.5,0],[106,-3],[105.7,-5.8],[102,-4],[98,1]],[[109,0.5],[109.5,1.8],[111,1],[114.5,1.5],[115.5,4],[117.5,4.2],[118,1],[116.5,-2],[116,-4],[111,-3.4],[110,-1.5]],[[105.5,-6.5],[114.5,-7.7],[114.3,-8.7],[106.5,-7.5]],[[119.5,0],[124,1],[125,1.5],[120.5,0.4],[123,-1],[123,-5],[120.5,-3],[120.5,-5.5],[119,-3]],[[116,-8.5],[120,-8.4],[125,-8.2],[124,-10],[119.5,-9]],[[127.5,2],[128.5,0],[127.5,-0.8]],[[127.5,-3],[130.5,-3],[129,-3.6]],[[131,-0.8],[135,-3.3],[138,-1.6],[141,-2.6],[141,-9.1],[138,-8],[138,-5.5],[133,-4],[132,-2.8]]],
"PNG":[[[141,-2.6],[145,-4.3],[147.8,-6.3],[147,-6.8],[150.5,-10.5],[146,-8.2],[143,-9],[141,-9.1]],[[148.5,-5.6],[152,-4.2],[152,-5.5],[149,-6.3]],[[151,-2.8],[153,-4.5],[152.7,-3.5]]],
"Solomon":[[[155,-6],[160,-9.5],[157,-8.5]]],
"Philippines":[[[120.5,16],[120.8,18.5],[122.2,18.4],[122,16],[124,13],[122,14]],[[122,7],[123.5,8.5],[125.5,9.7],[126.5,7.5],[125.5,5.8],[124,6.5]],[[122,11.5],[125,12.5],[125.5,10.5],[123,9.5]],[[117.5,8.5],[119.5,11],[119,10]]],
"Sri Lanka":[[[79.8,8.5],[80.2,9.8],[81.8,7.5],[80.7,6]]],
"Australia":[[[114,-22],[113.5,-26],[115,-34.2],[118,-35],[124,-33],[129,-31.7],[134,-32.5],[136,-35],[138,-33],[138,-35.5],[141,-38.3],[146.5,-39],[150,-37.5],[153,-31],[153.5,-26],[149,-21.5],[146,-19],[145.5,-15],[142.5,-10.7],[141.5,-13],[141,-17],[137,-15.7],[136,-12],[130.8,-11.5],[129.5,-15],[125,-14.5],[122,-18],[117,-20.6]],[[144.7,-41],[148.3,-41],[147.8,-43.3],[146,-43.5]]],
"New Zealand":[[[172.7,-34.5],[175.5,-37],[178.5,-37.7],[176,-41],[175,-41.5],[174,-39.5]],[[172.7,-40.6],[174.3,-41.7],[171,-45],[169,-46.6],[166.5,-46],[170,-43]]],
"New Caledonia":[[[164,-20],[167,-22.3],[165,-21.5]]],
"Fiji":[[[177.5,-17.5],[178.5,-17],[178.5,-18.2]]],
"Vanuatu":[[[167,-15],[167.5,-16],[166.8,-15.8]]]
};

// Tiny islands seen as specks: [longitude, latitude]
const islets = [[-91,-0.5],[-24,15.5],[-16,28.2],[-27,38],[57.5,-20.2],[55.5,-21],[55,-4.5],[69.5,-49.3],[-37,-54.3],[-12,-37],[-5.7,-16],[73,4],[145,13.5],[158,7],[171,7],[-172,-13.6],[-149.5,-17.6],[-140,-9],[-145,-16],[-157,2],[-175,-21],[-109,-27],[-79,-33.5],[-64.7,32.3],[-7,62],[159,-54.5],[-176.5,-44],[73.5,-53],[-170,-14.3],[-168,-19],[-160,-21],[-178,-18],[-147,-15],[-152,-17],[-138,-20],[-155,-10],[-172,-3],[173,1.5],[179,-8],[-61,15],[-61.3,13],[-61,10.5],[-77.5,24.5],[-75,24],[-25,37.7],[-31,39.5],[-17,32.7],[44,-12],[-60,46.8]];

const naSet = new Set(naCountries);
const groups = {
  quantile: [null, quantile2, quantile3, quantile4, quantile5],
  jenks: [null, jenks2, jenks3, jenks4, jenks5],
  equal: [null, equal2],
  pretty: [null, pretty2]
};
function classOf(method, name) {
  if (naSet.has(name)) return "NA";
  const g = groups[method];
  for (let i = 1; i < g.length; i++) if (g[i] && g[i].includes(name)) return String(i + 1);
  return "1";
}

const color = d3.scaleOrdinal().domain(legendLabels).range(classColors);
const lonScale = d3.scaleLinear().domain([-180, 180]).range([38, 475]);
const latScale = d3.scaleLinear().domain([84, -84]).range([84, 288]);
const projection = d3.geoTransform({ point(x, y) { this.stream.point(lonScale(x), latScale(y)); } });
const path = d3.geoPath(projection).pointRadius(0.6);

const closeRing = r => r.concat([r[0]]);
const features = Object.entries(outlines).map(([name, rings]) => ({
  type: "Feature", properties: { name },
  geometry: { type: "MultiPolygon", coordinates: rings.map(r => [closeRing(r)]) }
}));
const isletFeature = { type: "MultiPoint", coordinates: islets };

const svg = d3.select("#chart");
const colX = d3.scaleOrdinal().domain([0, 1]).range([0, 509.5]);
const rowY = d3.scaleOrdinal().domain([0, 1]).range([0, 288.7]);

methods.forEach((m, i) => {
  const g = svg.append("g").attr("transform", `translate(${colX(i % 2)},${rowY(Math.floor(i / 2))})`);
  g.append("text").attr("x", 263).attr("y", 59).attr("text-anchor", "middle")
    .attr("font-size", 25.4).attr("fill", "#1a1a1a").text(m);
  g.selectAll("path.c").data(features).join("path").attr("class", "c")
    .attr("d", path)
    .attr("fill", d => color(classOf(m, d.properties.name)))
    .attr("stroke", "#555555").attr("stroke-width", 0.85).attr("stroke-linejoin", "round");
  g.append("path").attr("d", path(isletFeature))
    .attr("fill", "#c4c4c4").attr("stroke", "#888888").attr("stroke-width", 0.25);
});

// legend
const keyY = d3.scaleBand().domain(legendLabels).range([233.5, 509.5]);
const legend = svg.append("g");
legendTitle.forEach((t, i) => legend.append("text").attr("x", 1067).attr("y", 175 + i * 38.5)
  .attr("font-size", 32.1).attr("fill", "#000").text(t));
legend.selectAll("rect").data(legendLabels).join("rect")
  .attr("x", 1068).attr("y", d => keyY(d)).attr("width", 45.5).attr("height", keyY.bandwidth())
  .attr("fill", d => color(d)).attr("stroke", "#8f8f8f").attr("stroke-width", 0.9);
legend.selectAll("text.l").data(legendLabels).join("text").attr("class", "l")
  .attr("x", 1129.5).attr("y", d => keyY(d) + keyY.bandwidth() / 2 + 8.8)
  .attr("font-size", 25.2).attr("fill", "#000").text(d => d);
</script></body></html>
